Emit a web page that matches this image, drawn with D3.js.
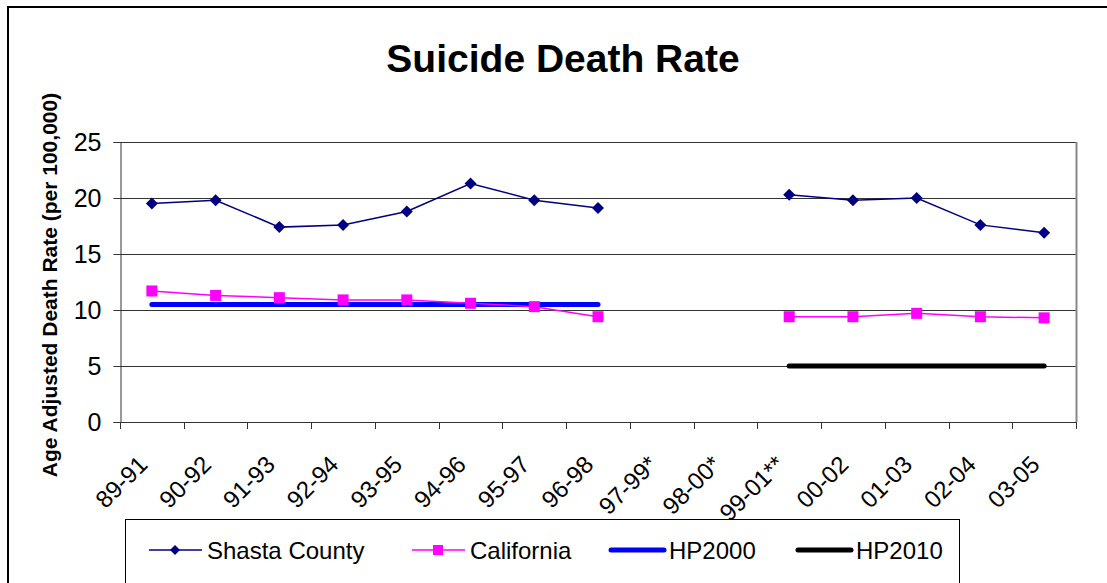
<!DOCTYPE html>
<html>
<head>
<meta charset="utf-8">
<script src="https://cdn.jsdelivr.net/npm/d3@7"></script>
<style>
  body { margin: 0; background: #fff; }
  svg { display: block; }
  svg text { font-family: "Liberation Sans", Arial, sans-serif; }
</style>
</head>
<body>
<div id="chart"></div>
<script>
// periods on the x axis
var periods = ["89-91", "90-92", "91-93", "92-94", "93-95", "94-96", "95-97", "96-98",
  "97-99*", "98-00*", "99-01**", "00-02", "01-03", "02-04", "03-05"];

// rates, null where no data
var shasta = [19.5, 19.8, 17.4, 17.6, 18.8, 21.3, 19.8, 19.1, null, null, 20.3, 19.8, 20.0, 17.6, 16.9];
var california = [11.7, 11.3, 11.1, 10.9, 10.9, 10.6, 10.3, 9.4, null, null, 9.4, 9.4, 9.7, 9.4, 9.3];
var hp2000 = [10.5, 10.5, 10.5, 10.5, 10.5, 10.5, 10.5, 10.5, null, null, null, null, null, null, null];
var hp2010 = [null, null, null, null, null, null, null, null, null, null, 5, 5, 5, 5, 5];
var yTicks = [0, 5, 10, 15, 20, 25];

var W = 1107, H = 583;
var plot = { left: 120, right: 1076, top: 142, bottom: 422 };

var svg = d3.select("#chart").append("svg")
  .attr("width", W)
  .attr("height", H);

// outer chart frame
svg.append("rect")
  .attr("x", 8).attr("y", 7)
  .attr("width", W + 10).attr("height", H + 10)
  .attr("fill", "none")
  .attr("stroke", "#000")
  .attr("stroke-width", 2);

var x = d3.scaleBand().domain(periods).range([plot.left, plot.right]);
var y = d3.scaleLinear().domain([0, 25]).range([plot.bottom, plot.top]);

// title
svg.append("text")
  .attr("x", 563).attr("y", 72)
  .attr("text-anchor", "middle")
  .attr("font-size", "39px")
  .attr("font-weight", "bold")
  .text("Suicide Death Rate");

// y axis label
svg.append("text")
  .attr("transform", "translate(57,285) rotate(-90)")
  .attr("text-anchor", "middle")
  .attr("font-size", "21px")
  .attr("font-weight", "bold")
  .text("Age Adjusted Death Rate (per 100,000)");

// gridlines
svg.append("g").selectAll("line")
  .data(yTicks.slice(1))
  .enter().append("line")
  .attr("x1", plot.left).attr("x2", plot.right)
  .attr("y1", function (d) { return Math.round(y(d)) + 0.5; })
  .attr("y2", function (d) { return Math.round(y(d)) + 0.5; })
  .attr("stroke", "#333");

// right border of plot area
svg.append("line")
  .attr("x1", plot.right + 0.5).attr("x2", plot.right + 0.5)
  .attr("y1", plot.top).attr("y2", plot.bottom)
  .attr("stroke", "#888").attr("stroke-width", 2);

// y axis
var yAxis = svg.append("g")
  .attr("transform", "translate(" + (plot.left + 0.5) + ",0)")
  .call(d3.axisLeft(y).tickValues(yTicks).tickSize(7).tickPadding(12));
yAxis.selectAll("text").attr("font-size", "25px").attr("fill", "#000")
  .attr("font-family", "Liberation Sans, Arial, sans-serif");
yAxis.selectAll("line, path").attr("stroke", "#333");

// x axis: ticks at band boundaries
var bounds = periods.map(function (p) { return x(p); }).concat([plot.right]);
var xAxis = svg.append("g");
xAxis.append("line")
  .attr("x1", plot.left).attr("x2", plot.right)
  .attr("y1", plot.bottom + 0.5).attr("y2", plot.bottom + 0.5)
  .attr("stroke", "#333");
xAxis.selectAll("line.tick")
  .data(bounds)
  .enter().append("line")
  .attr("class", "tick")
  .attr("x1", function (d) { return Math.round(d) + 0.5; })
  .attr("x2", function (d) { return Math.round(d) + 0.5; })
  .attr("y1", plot.bottom).attr("y2", plot.bottom + 7)
  .attr("stroke", "#333");
xAxis.selectAll("text")
  .data(periods)
  .enter().append("text")
  .attr("transform", function (d) {
    return "translate(" + (x(d) + x.bandwidth() / 2 - 3) + "," + (plot.bottom + 44) + ") rotate(-45)";
  })
  .attr("text-anchor", "end")
  .attr("font-size", "24px")
  .text(function (d) { return d; });

function cx(i) { return x(periods[i]) + x.bandwidth() / 2; }

var line = d3.line()
  .defined(function (d) { return d != null; })
  .x(function (d, i) { return cx(i); })
  .y(function (d) { return y(d); });

// target lines
svg.append("path").datum(hp2000)
  .attr("d", line).attr("fill", "none")
  .attr("stroke", "#0000ff").attr("stroke-width", 5).attr("stroke-linecap", "round");
svg.append("path").datum(hp2010)
  .attr("d", line).attr("fill", "none")
  .attr("stroke", "#000").attr("stroke-width", 5).attr("stroke-linecap", "round");

// California
svg.append("path").datum(california)
  .attr("d", line).attr("fill", "none")
  .attr("stroke", "#ff00ff").attr("stroke-width", 1.5);
svg.append("g").selectAll("rect")
  .data(california.map(function (v, i) { return { v: v, i: i }; }).filter(function (d) { return d.v != null; }))
  .enter().append("rect")
  .attr("x", function (d) { return cx(d.i) - 5.5; })
  .attr("y", function (d) { return y(d.v) - 5.5; })
  .attr("width", 11).attr("height", 11)
  .attr("fill", "#ff00ff");

// Shasta County
svg.append("path").datum(shasta)
  .attr("d", line).attr("fill", "none")
  .attr("stroke", "#000080").attr("stroke-width", 1.5);
svg.append("g").selectAll("path")
  .data(shasta.map(function (v, i) { return { v: v, i: i }; }).filter(function (d) { return d.v != null; }))
  .enter().append("path")
  .attr("transform", function (d) { return "translate(" + cx(d.i) + "," + y(d.v) + ") rotate(45)"; })
  .attr("d", d3.symbol().type(d3.symbolSquare).size(72))
  .attr("fill", "#000080");

// legend
var legend = svg.append("g");
legend.append("rect")
  .attr("x", 125.5).attr("y", 519.5)
  .attr("width", 834).attr("height", 80)
  .attr("fill", "#fff").attr("stroke", "#000");

var items = [
  { name: "Shasta County", color: "#000080", x: 149, marker: "diamond", w: 1.5 },
  { name: "California", color: "#ff00ff", x: 412, marker: "square", w: 1.5 },
  { name: "HP2000", color: "#0000ff", x: 611, marker: null, w: 5 },
  { name: "HP2010", color: "#000", x: 798, marker: null, w: 5 }
];
var ly = 550;
items.forEach(function (it) {
  legend.append("line")
    .attr("x1", it.x).attr("x2", it.x + 53)
    .attr("y1", ly).attr("y2", ly)
    .attr("stroke", it.color).attr("stroke-width", it.w)
    .attr("stroke-linecap", it.marker ? "butt" : "round");
  if (it.marker === "diamond") {
    legend.append("path")
      .attr("transform", "translate(" + (it.x + 26) + "," + ly + ") rotate(45)")
      .attr("d", d3.symbol().type(d3.symbolSquare).size(50))
      .attr("fill", it.color);
  } else if (it.marker === "square") {
    legend.append("rect")
      .attr("x", it.x + 21).attr("y", ly - 5)
      .attr("width", 10).attr("height", 10)
      .attr("fill", it.color);
  }
  legend.append("text")
    .attr("x", it.x + 58).attr("y", ly + 9)
    .attr("font-size", "24px")
    .text(it.name);
});
</script>
</body>
</html>
